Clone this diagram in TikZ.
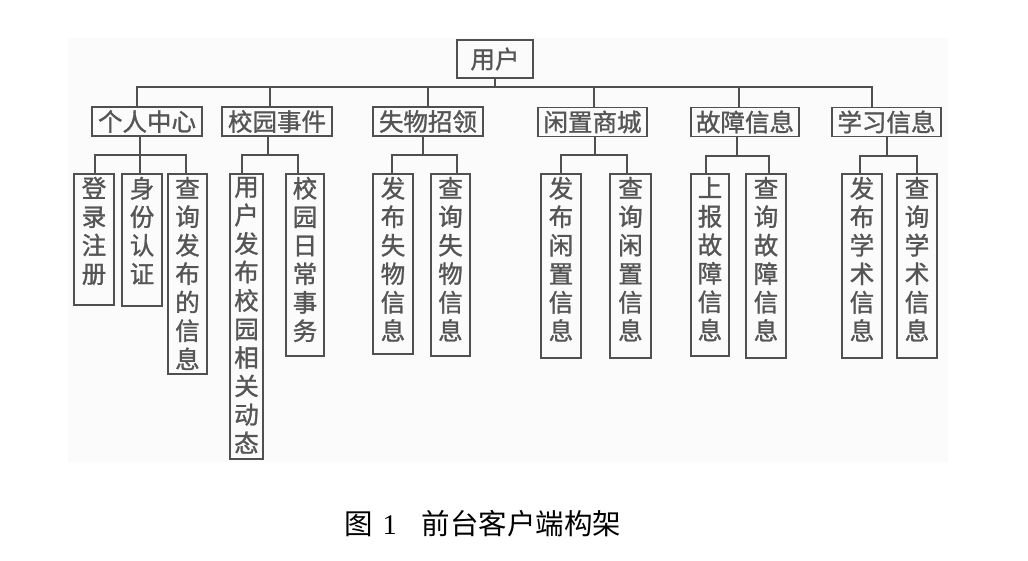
\documentclass[tikz,border=0pt]{standalone}
\usepackage{fontspec}
\setmainfont{Liberation Serif}
\newfontfamily\cjk{Noto Sans CJK SC}
\newfontfamily\cjkb[FakeBold=1.2]{Noto Sans CJK SC}
\usetikzlibrary{calc}
\definecolor{bg}{RGB}{251,251,251}
\definecolor{ln}{RGB}{80,80,80}
\definecolor{tx}{RGB}{85,85,85}
\newcommand{\vcol}[2]{\parbox[t][#1][t]{30pt}{\vspace*{3pt}\centering\fontsize{24.5pt}{28.5pt}\selectfont #2}}
\begin{document}
\begin{tikzpicture}[x=1pt,y=-1pt,
  box/.style={draw=ln, line width=1.8pt, text=tx, inner sep=0pt, font=\cjkb\fontsize{24.5pt}{28pt}\selectfont},
  topbox/.style={box, minimum width=110pt, minimum height=29pt},
  leaf/.style={box, anchor=north},
  link/.style={draw=ln, line width=1.8pt, line cap=rect}]
\useasboundingbox (0,0) rectangle (1028,561);
\fill[bg] (68,38) rectangle (948,462);

% root
\node[box, minimum width=76pt, minimum height=38pt] (root) at (495,59) {用户};

% level 1
\node[topbox] (A) at (147,121.5) {个人中心};
\node[topbox] (B) at (277,121.5) {校园事件};
\node[topbox] (C) at (428,121.5) {失物招领};
\node[topbox, minimum width=109pt] (D) at (592.5,122) {闲置商城};
\node[topbox, minimum width=108pt] (E) at (745,122) {故障信息};
\node[topbox, minimum width=109pt] (F) at (886.5,122) {学习信息};

% level 2
\node[leaf, minimum width=40pt, minimum height=131pt] (a1) at (94,173) {\vcol{131pt}{登\\录\\注\\册}};
\node[leaf, minimum width=40pt, minimum height=132pt] (a2) at (142,173) {\vcol{132pt}{身\\份\\认\\证}};
\node[leaf, minimum width=39pt, minimum height=200pt] (a3) at (187.5,173) {\vcol{200pt}{查\\询\\发\\布\\的\\信\\息}};
\node[leaf, minimum width=33pt, minimum height=285pt] (b1) at (246.5,173) {\vcol{285pt}{用\\户\\发\\布\\校\\园\\相\\关\\动\\态}};
\node[leaf, minimum width=38pt, minimum height=182pt] (b2) at (305,173) {\vcol{182pt}{校\\园\\日\\常\\事\\务}};
\node[leaf, minimum width=40pt, minimum height=180pt] (c1) at (393,173) {\vcol{180pt}{发\\布\\失\\物\\信\\息}};
\node[leaf, minimum width=39pt, minimum height=182pt] (c2) at (450.5,173) {\vcol{182pt}{查\\询\\失\\物\\信\\息}};
\node[leaf, minimum width=40pt, minimum height=184pt] (d1) at (561,173) {\vcol{184pt}{发\\布\\闲\\置\\信\\息}};
\node[leaf, minimum width=41pt, minimum height=184pt] (d2) at (630.5,173) {\vcol{184pt}{查\\询\\闲\\置\\信\\息}};
\node[leaf, minimum width=38pt, minimum height=182pt] (e1) at (710,173) {\vcol{182pt}{上\\报\\故\\障\\信\\息}};
\node[leaf, minimum width=40pt, minimum height=184pt] (e2) at (766,173) {\vcol{184pt}{查\\询\\故\\障\\信\\息}};
\node[leaf, minimum width=40pt, minimum height=184pt] (f1) at (862,173) {\vcol{184pt}{发\\布\\学\\术\\信\\息}};
\node[leaf, minimum width=40pt, minimum height=184pt] (f2) at (917,173) {\vcol{184pt}{查\\询\\学\\术\\信\\息}};

% main bus
\coordinate (bus) at (495,87);
\coordinate (pA) at (137,87);
\coordinate (pB) at (270,87);
\coordinate (pC) at (428,87);
\coordinate (pD) at (594,87);
\coordinate (pE) at (739,87);
\coordinate (pF) at (872,87);
\draw[link] (root.south) -- (bus);
\draw[link] (pA) -- (pF);
\foreach \p/\n in {pA/A,pB/B,pC/C,pD/D,pE/E,pF/F}
  \draw[link] (\p) -- (\p |- \n.north);

% sub buses
\coordinate (sA) at (140,155);
\coordinate (sB) at (268,155);
\coordinate (sC) at (423,155);
\coordinate (sD) at (595,155);
\coordinate (sE) at (737,156);
\coordinate (sF) at (887,156);
\foreach \s/\n in {sA/A,sB/B,sC/C,sD/D,sE/E,sF/F}
  \draw[link] (\s |- \n.south) -- (\s);

\coordinate (qa1) at (95,155);  \coordinate (qa3) at (186,155);
\coordinate (qb1) at (242,155); \coordinate (qb2) at (298,155);
\coordinate (qc1) at (392,155); \coordinate (qc2) at (457,155);
\coordinate (qd1) at (561,155); \coordinate (qd2) at (627,155);
\coordinate (qe1) at (706,156); \coordinate (qe2) at (769,156);
\coordinate (qf1) at (860,156); \coordinate (qf2) at (917,156);
\draw[link] (qa1) -- (qa3);
\draw[link] (qb1) -- (qb2);
\draw[link] (qc1) -- (qc2);
\draw[link] (qd1) -- (qd2);
\draw[link] (qe1) -- (qe2);
\draw[link] (qf1) -- (qf2);
\draw[link] (qa1) -- (qa1 |- a1.north);
\draw[link] (sA) -- (sA |- a2.north);
\draw[link] (qa3) -- (qa3 |- a3.north);
\foreach \q/\n in {qb1/b1,qb2/b2,qc1/c1,qc2/c2,qd1/d1,qd2/d2,qe1/e1,qe2/e2,qf1/f1,qf2/f2}
  \draw[link] (\q) -- (\q |- \n.north);

% caption
\node[anchor=west, inner sep=0pt, font=\fontsize{28.5pt}{30pt}\selectfont] (cap) at (344,524)
  {{\cjk 图}\hspace{10pt}1\hspace{25pt}{\cjk 前台客户端构架}};
\end{tikzpicture}
\end{document}
